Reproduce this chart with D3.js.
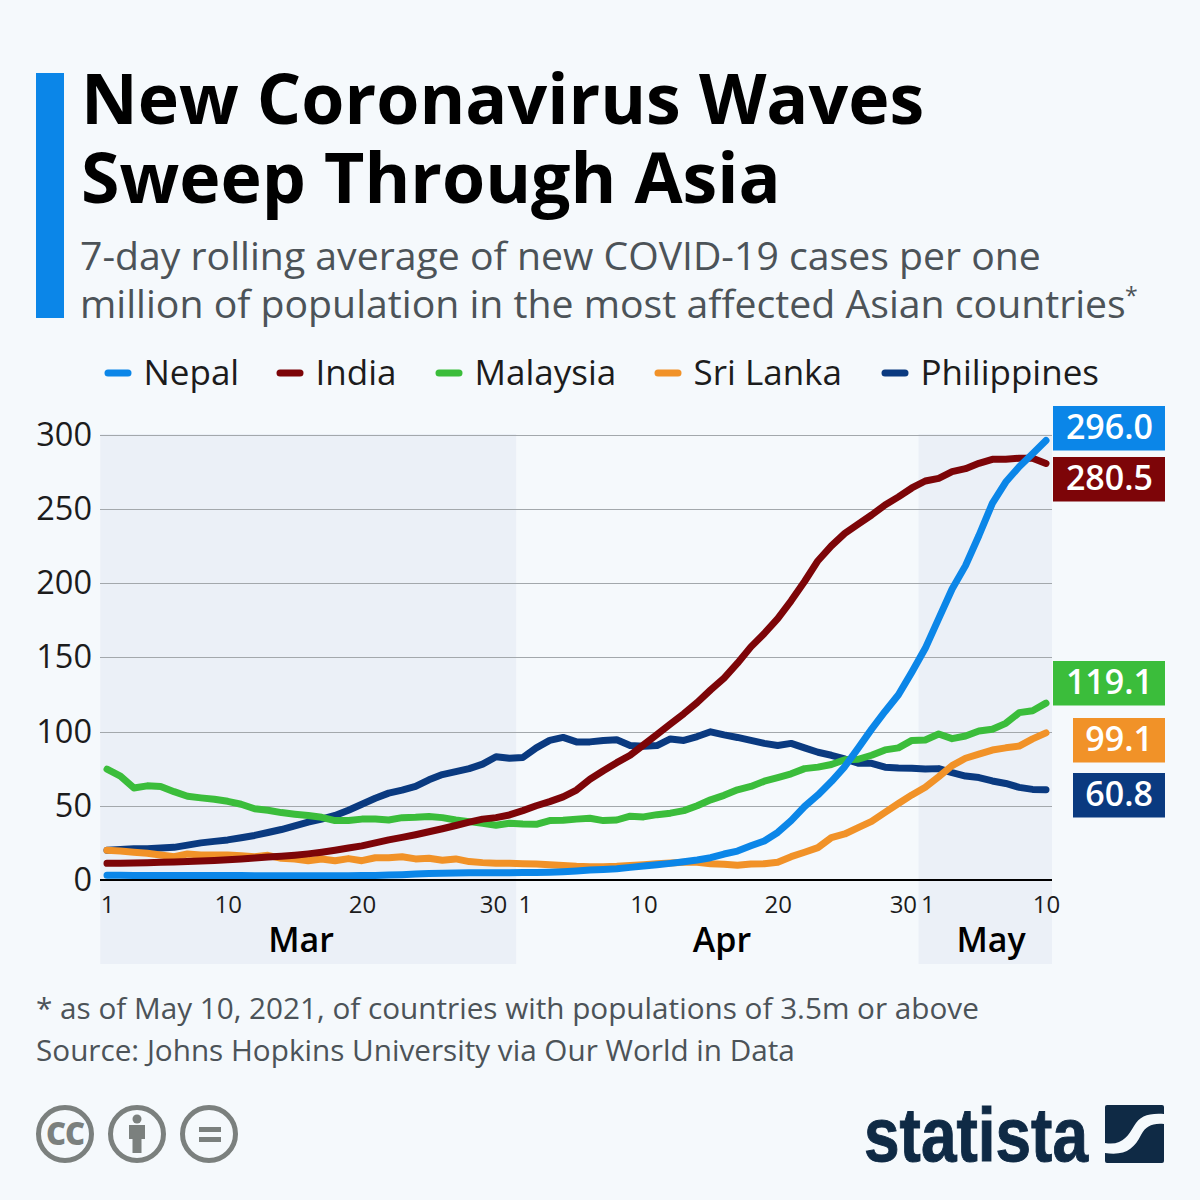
<!DOCTYPE html>
<html>
<head>
<meta charset="utf-8">
<script src="https://cdn.jsdelivr.net/npm/d3@7"></script>
<style>
  html, body { margin: 0; padding: 0; background: #f5f9fc; }
  svg { display: block; font-family: "Open Sans", "Noto Sans", sans-serif; }
</style>
</head>
<body>
<svg id="chart" width="1200" height="1200"></svg>
<script>
// daily values, Mar 1 - May 10 2021
const nepal = [3.2,3.2,3.1,3.1,3.1,3,3,3,3,3,3,2.9,2.8,2.8,2.8,2.8,2.8,2.9,2.9,3,3.1,3.3,3.6,4,4.4,4.6,4.7,4.8,4.8,4.8,4.9,
  5,5.1,5.3,5.6,6.1,6.7,7.1,7.6,8.5,9.4,10.3,11.2,12.3,13.5,15,17.5,19.5,23,26.3,32,40,49.5,57.3,66.3,76.4,88.8,101.6,113.5,124.7,140,
  156,176,196,211.7,232,253.6,268,278.3,287,296];
const india = [11.2,11.3,11.5,11.7,12,12.2,12.5,12.8,13.2,13.6,14.2,14.8,15.5,16,16.7,17.6,18.7,20,21.5,23,25,27,28.7,30.5,32.5,34.5,36.7,39,41,42,43.8,
  46.7,50,52.8,56,60.6,67.8,73.6,79,84,91,98,105,112,119.5,128,136,146,157,166,176,188,201,215,225,233.4,239.7,245.8,252.5,258,264,
  268.7,270.5,275,277,280.6,283.3,283.3,284,284,280.5];
const malaysia = [74.6,70,62,63.4,63,59.5,56.4,55.3,54.4,53,51,48,47,45.4,44.3,43.4,42.2,40,40,41,41,40.4,42,42.2,42.7,42,40.4,39.3,38.2,36.9,38.2,
  37.7,37.5,40,40.2,41,41.6,40,40.4,43,42.5,44,45,46.7,50,54,57,60.7,63,66.5,69,71.5,75,76,77.8,81,81.3,84,87.6,89,94,
  94.3,98.3,95.2,97,100.3,101.5,105.5,112.7,114,119.1];
const sriLanka = [20,19.5,18.7,18,16.9,15.7,17.5,16.9,16.9,16.9,16.4,15.7,16.6,14.6,14.2,13,14.2,13,14.4,13,15,15,15.7,14.2,14.6,13.3,14.2,12.4,11.7,11.2,11.2,
  11,10.8,10.3,9.7,9.2,9,9,9.3,9.8,10.3,10.9,11.5,12,12,11,10.6,9.9,10.8,11,12,15.7,18.7,21.8,28.5,31,35.3,39.5,45.6,51.5,57.3,
  62.5,69.5,77,82,84.8,87.5,89,90.2,95,99.1];
const philippines = [20,20.5,21,21,21.5,22,23.5,25,26,27,28.5,30,32,34,36.5,39,41,43.5,47,51,55,58.5,60.5,63,67.5,71,73,75,78,83,82,
  82.5,89,94,96,93,93,94,94.4,90.6,90,90.5,95,94,96.6,99.8,97.7,96,94,92,90.6,92,89,86,84,81.5,78.6,78.6,76,75.4,75.2,
  74.7,75,72.3,70,69,66.7,65,62.4,61,60.8];

const seriesNames = ['Nepal', 'India', 'Malaysia', 'Sri Lanka', 'Philippines'];
const seriesValues = [nepal, india, malaysia, sriLanka, philippines];
const seriesColors = ['#0b86e8', '#7d0508', '#3bbd3b', '#f19228', '#0a3a80'];

const yTicks = [0, 50, 100, 150, 200, 250, 300];
const xTickDays = [[2, 1], [2, 10], [2, 20], [2, 30], [3, 1], [3, 10], [3, 20], [3, 30], [4, 1], [4, 10]];
const months = ['Mar', 'Apr', 'May'];

const svg = d3.select('#chart');
const utc = (m, d) => new Date(Date.UTC(2021, m, d));
const dates = d3.range(71).map(i => utc(2, 1 + i));

const bg = '#f5f9fc';
svg.append('rect').attr('width', 1200).attr('height', 1200).attr('fill', bg);

// header
svg.append('rect').attr('x', 36).attr('y', 73).attr('width', 28).attr('height', 245).attr('fill', '#0b86e8');
const title = svg.append('g').attr('font-weight', 700).attr('font-size', 69.8).attr('fill', '#000');
title.append('text').attr('x', 81).attr('y', 124).text('New Coronavirus Waves');
title.append('text').attr('x', 81).attr('y', 203).text('Sweep Through Asia');
const sub = svg.append('g').attr('font-size', 39.2).attr('fill', '#4c5358');
sub.append('text').attr('x', 80).attr('y', 270).text('7-day rolling average of new COVID-19 cases per one');
sub.append('text').attr('x', 80).attr('y', 318).text('million of population in the most affected Asian countries');
sub.append('text').attr('x', 1125).attr('y', 304).attr('font-size', 23).text('*');

// legend
const legendX = [105, 277, 436, 655, 882];
seriesNames.forEach((name, i) => {
    svg.append('line')
        .attr('x1', legendX[i] + 3).attr('x2', legendX[i] + 23)
        .attr('y1', 373).attr('y2', 373)
        .attr('stroke', seriesColors[i]).attr('stroke-width', 7).attr('stroke-linecap', 'round');
    svg.append('text')
        .attr('x', legendX[i] + 38.5).attr('y', 385)
        .attr('font-size', 35).attr('fill', '#1c1c1c')
        .text(name);
});

// scales
const xscale = d3.scaleUtc()
    .domain([utc(2, 1), utc(4, 10)])
    .range([107, 1046]);
const yscale = d3.scaleLinear().domain([0, 300]).range([880, 434.5]);
const halfDay = (xscale(utc(2, 2)) - xscale(utc(2, 1))) / 2;

// month bands, Apr left unshaded
const chartBottom = 964;
svg.append('rect')
    .attr('x', xscale(utc(2, 1)) - halfDay).attr('y', 434)
    .attr('width', xscale(utc(3, 1)) - xscale(utc(2, 1)))
    .attr('height', chartBottom - 434).attr('fill', '#ebf0f7');
svg.append('rect')
    .attr('x', xscale(utc(4, 1)) - halfDay).attr('y', 434)
    .attr('width', xscale(utc(4, 10)) + 6 - xscale(utc(4, 1)) + halfDay)
    .attr('height', chartBottom - 434).attr('fill', '#ebf0f7');

// grid + y labels
const yaxis = d3.axisLeft(yscale).tickValues(yTicks).tickSize(0).tickPadding(0);
const yg = svg.append('g').attr('transform', 'translate(92,0)').call(yaxis);
yg.attr('font-family', null);
yg.select('.domain').remove();
yg.selectAll('text').attr('font-size', 32.5).attr('fill', '#1c1c1c').attr('dy', '0.33em');
svg.append('g').selectAll('line')
    .data(yTicks.filter(d => d > 0))
    .join('line')
    .attr('x1', 100).attr('x2', 1052)
    .attr('y1', d => Math.round(yscale(d)) + 0.5).attr('y2', d => Math.round(yscale(d)) + 0.5)
    .attr('stroke', '#a3a8ac').attr('stroke-width', 1);

// lines, first in the legend ends up on top
const line = d3.line().x((d, i) => xscale(dates[i])).y(d => yscale(d));
d3.range(seriesNames.length).reverse().forEach(i => {
    svg.append('path')
        .attr('d', line(seriesValues[i]))
        .attr('fill', 'none')
        .attr('stroke', seriesColors[i])
        .attr('stroke-width', 7)
        .attr('stroke-linecap', 'round')
        .attr('stroke-linejoin', 'round');
});

// x axis on top of the lines
const xaxis = d3.axisBottom(xscale)
    .tickValues(xTickDays.map(d => utc(d[0], d[1])))
    .tickFormat(d => d.getUTCDate())
    .tickSize(0).tickPadding(0);
const xg = svg.append('g').attr('transform', 'translate(0,880)').call(xaxis);
xg.attr('font-family', null);
xg.select('.domain').remove();
xg.selectAll('text')
    .attr('font-size', 24).attr('fill', '#1c1c1c')
    .attr('y', 16).attr('dy', '0.71em')
    .attr('dx', d => {
        // the 30s get pushed left so they don't run into the next 1
        if (d.getUTCDate() != 30) return d.getUTCDate() == 1 && d.getUTCMonth() > 2 ? 2 : 0;
        return d.getUTCMonth() == 2 ? -3 : -9;
    });
svg.append('line').attr('x1', 100).attr('x2', 1052).attr('y1', 880).attr('y2', 880)
    .attr('stroke', '#000').attr('stroke-width', 2);

const monthX = [301, 722, 991];
months.forEach((m, i) => {
    svg.append('text')
        .attr('x', monthX[i]).attr('y', 952)
        .attr('text-anchor', 'middle')
        .attr('font-size', 34).attr('font-weight', 600).attr('fill', '#000')
        .text(m);
});

// end labels
const labelBoxes = [
    {y: 406, x: 1053}, {y: 457, x: 1053}, {y: 661, x: 1053}, {y: 718, x: 1073}, {y: 773, x: 1073}
];
seriesValues.forEach((vals, i) => {
    const b = labelBoxes[i];
    svg.append('rect').attr('x', b.x).attr('y', b.y).attr('width', 1165 - b.x).attr('height', 44.5)
        .attr('fill', seriesColors[i]);
    svg.append('text')
        .attr('x', 1153).attr('y', b.y + 33)
        .attr('text-anchor', 'end')
        .attr('font-size', 34).attr('font-weight', 600).attr('fill', '#fff')
        .text(vals[vals.length - 1].toFixed(1));
});

// footer
const foot = svg.append('g').attr('font-size', 29.7).attr('fill', '#4c5358');
foot.append('text').attr('x', 36).attr('y', 1019).text('* as of May 10, 2021, of countries with populations of 3.5m or above');
foot.append('text').attr('x', 36).attr('y', 1061).text('Source: Johns Hopkins University via Our World in Data');

// cc icons
const iconGrey = '#7b807e';
[65, 137, 209].forEach(cx => {
    svg.append('circle').attr('cx', cx).attr('cy', 1134).attr('r', 26.5)
        .attr('fill', 'none').attr('stroke', iconGrey).attr('stroke-width', 5);
});
svg.append('text').attr('x', 65).attr('y', 1145).attr('text-anchor', 'middle')
    .attr('font-size', 31).attr('font-weight', 800).attr('letter-spacing', -1).attr('fill', iconGrey).text('CC');
svg.append('circle').attr('cx', 137).attr('cy', 1119).attr('r', 4.5).attr('fill', iconGrey);
svg.append('path').attr('d', 'M129,1125H145V1139H141.5V1153H132.5V1139H129Z').attr('fill', iconGrey);
svg.append('rect').attr('x', 199).attr('y', 1127).attr('width', 22).attr('height', 5).attr('fill', iconGrey);
svg.append('rect').attr('x', 199).attr('y', 1137).attr('width', 22).attr('height', 5).attr('fill', iconGrey);

// statista logo
const navy = '#0f2a45';
svg.append('text')
    .attr('x', 864).attr('y', 1161)
    .attr('font-family', '"Liberation Sans Narrow", "Liberation Sans", sans-serif')
    .attr('font-size', 76).attr('font-weight', 700).attr('fill', navy)
    .attr('stroke', navy).attr('stroke-width', 1)
    .attr('textLength', 224).attr('lengthAdjust', 'spacingAndGlyphs')
    .text('statista');
svg.append('rect').attr('x', 1105).attr('y', 1105).attr('width', 59).attr('height', 58).attr('rx', 2).attr('fill', navy);
svg.append('path')
    .attr('d', 'M1105,1143C1122,1146 1128,1136 1134,1126C1140,1116 1148,1113 1164,1114V1124C1152,1123 1146,1126 1141,1135C1134,1149 1125,1156 1105,1153Z')
    .attr('fill', bg);
</script>
</body>
</html>
